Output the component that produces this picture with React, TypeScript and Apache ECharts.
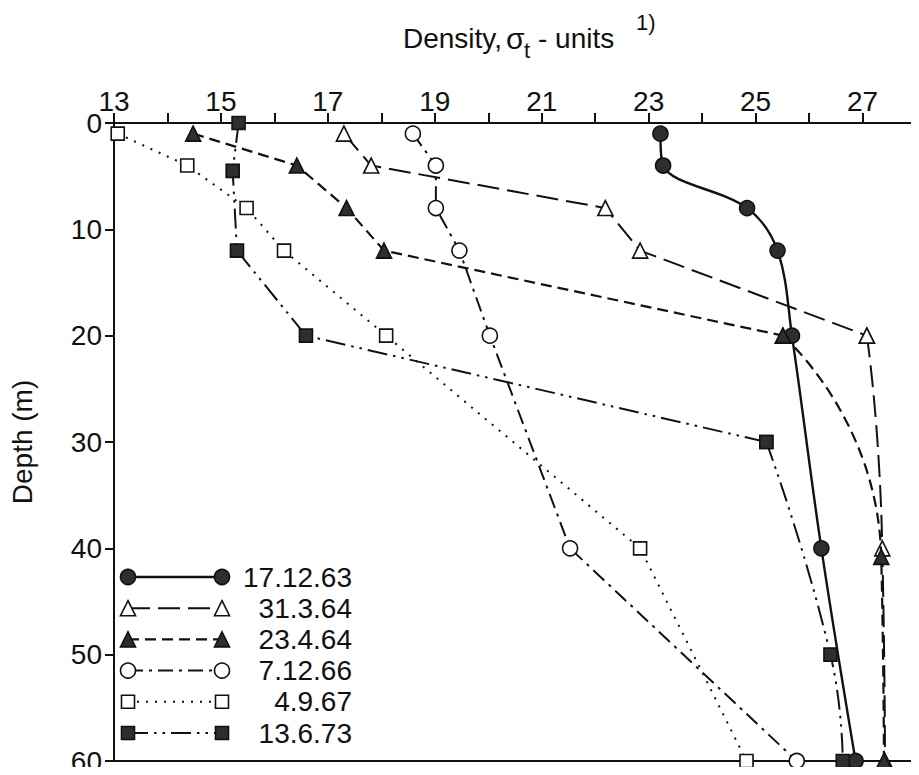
import React, { useEffect, useRef } from "react";
import * as echarts from "echarts";

// ---- data (density sigma-t units vs depth m) ----
const depthsA = [1, 4, 8, 12, 20, 40, 60];
const depths_23_4_64 = [1, 4, 8, 12, 20, 40.8, 60];
const depths73 = [0, 4.5, 12, 20, 30, 50, 60];

const dens_17_12_63 = [23.22, 23.27, 24.84, 25.41, 25.68, 26.23, 26.87];
const dens_31_3_64 = [17.3, 17.81, 22.19, 22.84, 27.08, 27.37, 27.42];
const dens_23_4_64 = [14.48, 16.42, 17.35, 18.05, 25.51, 27.35, 27.4];
const dens_7_12_66 = [18.59, 19.02, 19.02, 19.46, 20.03, 21.53, 25.77];
const dens_4_9_67 = [13.07, 14.37, 15.48, 16.18, 18.09, 22.84, 24.83];
const dens_13_6_73 = [15.33, 15.22, 15.3, 16.59, 25.2, 26.4, 26.63];

const seriesNames = ["17.12.63", "31.3.64", "23.4.64", "7.12.66", "4.9.67", "13.6.73"];
const xTickLabels = [13, 15, 17, 19, 21, 23, 25, 27];
const yTickLabels = [0, 10, 20, 30, 40, 50, 60];

const FONT = '"Liberation Sans", Arial, Helvetica, sans-serif';
const INK = "#111";
const FILL = "#2e2e2e";

type Style = {
  dash: number[] | "solid";
  symbol: string;
  filled: boolean;
  size: number;
  width: number;
};

const styles: Style[] = [
  { dash: "solid", symbol: "circle", filled: true, size: 15, width: 2.4 },
  { dash: [22, 8], symbol: "triangle", filled: false, size: 15, width: 2 },
  { dash: [11, 6], symbol: "triangle", filled: true, size: 15, width: 2.2 },
  { dash: [15, 6, 3, 6], symbol: "circle", filled: false, size: 15, width: 2 },
  { dash: [2, 7], symbol: "rect", filled: false, size: 13, width: 2 },
  { dash: [20, 6, 2.5, 6, 2.5, 6], symbol: "rect", filled: true, size: 13, width: 2 },
];

function part(
  idx: number,
  xs: number[],
  ys: number[],
  from: number,
  to: number,
  smooth: number | boolean,
  z: number
) {
  const st = styles[idx];
  const data: number[][] = [];
  for (let i = from; i <= to; i++) data.push([xs[i], ys[i]]);
  return {
    type: "line",
    name: seriesNames[idx],
    data,
    smooth,
    symbol: st.symbol,
    symbolSize: st.size,
    showSymbol: true,
    clip: false,
    lineStyle: { color: INK, width: st.width, type: st.dash },
    itemStyle: {
      color: st.filled ? FILL : "#fff",
      borderColor: INK,
      borderWidth: 1.6,
    },
    z,
  };
}

function legendGraphics() {
  const els: any[] = [];
  const x0 = 128;
  const x1 = 222;
  const textRight = 352;
  seriesNames.forEach((name, i) => {
    const st = styles[i];
    const y = 577 + i * 31.2;
    els.push({
      type: "line",
      shape: { x1: x0, y1: y, x2: x1, y2: y },
      style: {
        stroke: INK,
        lineWidth: st.width,
        lineDash: st.dash === "solid" ? null : st.dash,
      },
      z: 10,
    });
    [x0, x1].forEach((cx) => {
      const fill = st.filled ? FILL : "#fff";
      const common = { stroke: INK, lineWidth: 1.6, fill };
      if (st.symbol === "circle") {
        els.push({ type: "circle", shape: { cx, cy: y, r: st.size / 2 }, style: common, z: 11 });
      } else if (st.symbol === "rect") {
        const s = st.size;
        els.push({ type: "rect", shape: { x: cx - s / 2, y: y - s / 2, width: s, height: s }, style: common, z: 11 });
      } else {
        const s = st.size;
        els.push({
          type: "polygon",
          shape: { points: [[cx, y - s / 2], [cx + s / 2, y + s / 2], [cx - s / 2, y + s / 2]] },
          style: common,
          z: 11,
        });
      }
    });
    els.push({
      type: "text",
      x: textRight,
      y,
      style: {
        text: name,
        font: `28px ${FONT}`,
        fill: INK,
        align: "right",
        verticalAlign: "middle",
      },
      z: 11,
    });
  });
  return els;
}

export default function App() {
  const ref = useRef<HTMLDivElement>(null);
  useEffect(() => {
    if (!ref.current) return;
    const chart = echarts.init(ref.current, null, { renderer: "svg" });
    const axisLine = { show: true, lineStyle: { color: INK, width: 2 } };
    const option: any = {
      animation: false,
      backgroundColor: "#fff",
      textStyle: { fontFamily: FONT },
      grid: { left: 109, right: -2, top: 123, bottom: 12, containLabel: false },
      xAxis: [
        {
          type: "value",
          position: "top",
          min: 13,
          max: 28,
          interval: 1,
          axisLine: { ...axisLine, onZero: false },
          axisTick: { show: true, length: 10, lineStyle: { color: INK, width: 2 } },
          splitLine: { show: false },
          axisLabel: {
            fontSize: 28,
            fontFamily: FONT,
            color: INK,
            margin: 8,
            formatter: (v: number) => (xTickLabels.indexOf(v) >= 0 ? String(v) : ""),
          },
        },
        {
          type: "value",
          position: "bottom",
          min: 13,
          max: 28,
          axisLine: { ...axisLine, onZero: false },
          axisTick: { show: false },
          axisLabel: { show: false },
          splitLine: { show: false },
        },
      ],
      yAxis: {
        type: "value",
        inverse: true,
        min: 0,
        max: 60,
        interval: 10,
        name: "Depth (m)",
        nameLocation: "middle",
        nameRotate: 90,
        nameGap: 78,
        nameTextStyle: { fontSize: 28, fontFamily: FONT, color: INK },
        axisLine: { ...axisLine, onZero: false },
        axisTick: { show: true, length: 9, lineStyle: { color: INK, width: 2 } },
        splitLine: { show: false },
        axisLabel: {
          fontSize: 28,
          fontFamily: FONT,
          color: INK,
          margin: 12,
          formatter: (v: number) => (yTickLabels.indexOf(v) >= 0 ? String(v) : ""),
        },
      },
      series: [
        part(0, dens_17_12_63, depthsA, 0, 6, 0.35, 3),
        part(1, dens_31_3_64, depthsA, 0, 4, false, 3),
        part(1, dens_31_3_64, depthsA, 4, 6, 0.6, 3),
        part(2, dens_23_4_64, depths_23_4_64, 0, 4, false, 4),
        part(2, dens_23_4_64, depths_23_4_64, 4, 6, 0.6, 4),
        part(3, dens_7_12_66, depthsA, 0, 6, false, 3),
        part(4, dens_4_9_67, depthsA, 0, 6, false, 3),
        part(5, dens_13_6_73, depths73, 0, 4, false, 3),
        part(5, dens_13_6_73, depths73, 4, 6, 0.5, 3),
      ],
      graphic: [
        {
          type: "text",
          x: 403,
          y: 38,
          style: { text: "Density,", font: `28px ${FONT}`, fill: INK, verticalAlign: "middle" },
        },
        {
          type: "text",
          x: 506,
          y: 38,
          style: { text: "σ", font: `30px ${FONT}`, fill: INK, verticalAlign: "middle" },
        },
        {
          type: "text",
          x: 524,
          y: 50,
          style: { text: "t", font: `22px ${FONT}`, fill: INK, verticalAlign: "middle" },
        },
        {
          type: "text",
          x: 538,
          y: 38,
          style: { text: "- units", font: `28px ${FONT}`, fill: INK, verticalAlign: "middle" },
        },
        {
          type: "text",
          x: 636,
          y: 22,
          style: { text: "1)", font: `22px ${FONT}`, fill: INK, verticalAlign: "middle" },
        },
        {
          type: "line",
          shape: { x1: 917, y1: 515, x2: 917, y2: 763 },
          style: { stroke: "#9a9a9a", lineWidth: 1 },
        },
        ...legendGraphics(),
      ],
    };
    chart.setOption(option);
    return () => chart.dispose();
  }, []);
  return <div ref={ref} style={{ width: 919, height: 775, margin: -8 }} />;
}
